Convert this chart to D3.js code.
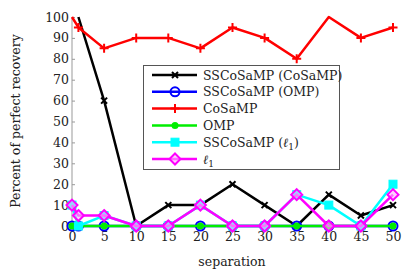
<!DOCTYPE html>
<html>
<head>
<meta charset="utf-8">
<script src="https://cdn.jsdelivr.net/npm/d3@7"></script>
<style>
  body { margin: 0; background: #fff; }
  text { font-family: "DejaVu Serif", serif; fill: #222; }
</style>
</head>
<body>
<svg id="chart" width="415" height="279"></svg>
<script>
// separation values on x
var separation = [0, 1, 5, 10, 15, 20, 25, 30, 35, 40, 45, 50];

// percent of perfect recovery per method (null = not measured)
var sscosampCosamp = [null, 100, 60, 0, 10, 10, 20, 10, 0, 15, 5, 10];
var sscosampOmp    = [0, 0, 0, 0, 0, 0, 0, 0, 0, 0, 0, 0];
var cosamp         = [100, 95, 85, 90, 90, 85, 95, 90, 80, 100, 90, 95];
var omp            = [0, 0, 0, 0, 0, 0, 0, 0, 0, 0, 0, 0];
var sscosampL1     = [10, 0, 5, 0, 0, 10, 0, 0, 15, 10, 0, 20];
var l1             = [10, 5, 5, 0, 0, 10, 0, 0, 15, 0, 0, 15];

var xTicks = [0, 5, 10, 15, 20, 25, 30, 35, 40, 45, 50];
var yTicks = [0, 10, 20, 30, 40, 50, 60, 70, 80, 90, 100];

var series = [
  { name: "SSCoSaMP (CoSaMP)", values: sscosampCosamp, color: "#000", marker: "x" },
  { name: "SSCoSaMP (OMP)", values: sscosampOmp, color: "#0000ff", marker: "circleOpen" },
  { name: "CoSaMP", values: cosamp, color: "#ff0000", marker: "plus" },
  { name: "OMP", values: omp, color: "#00ee00", marker: "circleFill" },
  { name: "SSCoSaMP (l1)", values: sscosampL1, color: "#00ffff", marker: "square" },
  { name: "l1", values: l1, color: "#ff00ff", marker: "diamond" }
];

var svg = d3.select("#chart");

var x = d3.scaleLinear().domain([0, 50]).range([72, 393]);
var y = d3.scaleLinear().domain([0, 100]).range([226, 17]);

// axes
var yAxis = svg.append("g")
  .attr("transform", "translate(72,0)")
  .call(d3.axisLeft(y).tickValues(yTicks).tickSize(-3).tickPadding(3));
yAxis.select(".domain").attr("stroke", "#999").attr("d", "M0," + y(0) + "V" + y(100));
yAxis.selectAll(".tick line").attr("stroke", "#999");
yAxis.selectAll("text").style("font-size", "12.5px").style("font-family", "DejaVu Serif").attr("fill", "#222");

var xAxis = svg.append("g")
  .attr("transform", "translate(0,226)")
  .call(d3.axisBottom(x).tickValues(xTicks).tickSize(0).tickPadding(6));
xAxis.select(".domain").remove();
xAxis.selectAll("text").style("font-size", "12.5px").style("font-family", "DejaVu Serif").attr("fill", "#222");

svg.append("text")
  .attr("x", 232).attr("y", 266)
  .attr("text-anchor", "middle")
  .style("font-size", "12.5px")
  .text("separation");

svg.append("text")
  .attr("transform", "translate(20,121) rotate(-90)")
  .attr("text-anchor", "middle")
  .style("font-size", "12.5px")
  .text("Percent of perfect recovery");

function drawMarker(g, type, color, cx, cy) {
  if (type === "x") {
    g.append("path").attr("d", "M" + (cx - 3) + "," + (cy - 3) + "L" + (cx + 3) + "," + (cy + 3) +
      "M" + (cx - 3) + "," + (cy + 3) + "L" + (cx + 3) + "," + (cy - 3))
      .attr("stroke", color).attr("stroke-width", 2);
  } else if (type === "plus") {
    g.append("path").attr("d", "M" + (cx - 4.5) + "," + cy + "H" + (cx + 4.5) + "M" + cx + "," + (cy - 4.5) + "V" + (cy + 4.5))
      .attr("stroke", color).attr("stroke-width", 2);
  } else if (type === "circleOpen") {
    g.append("circle").attr("cx", cx).attr("cy", cy).attr("r", 4.5)
      .attr("fill", "none").attr("stroke", color).attr("stroke-width", 2);
  } else if (type === "circleFill") {
    g.append("circle").attr("cx", cx).attr("cy", cy).attr("r", 3.5)
      .attr("fill", color);
  } else if (type === "square") {
    g.append("rect").attr("x", cx - 4).attr("y", cy - 4).attr("width", 8).attr("height", 8)
      .attr("fill", color).attr("stroke", color).attr("stroke-width", 1);
  } else if (type === "diamond") {
    g.append("path").attr("d", "M" + cx + "," + (cy - 5.5) + "L" + (cx + 5.5) + "," + cy + "L" + cx + "," + (cy + 5.5) + "L" + (cx - 5.5) + "," + cy + "Z")
      .attr("fill", "#ffb0ff").attr("fill-opacity", 0.6).attr("stroke", color).attr("stroke-width", 2);
  }
}

var line = d3.line()
  .defined(function(d) { return d.v !== null; })
  .x(function(d) { return x(d.s); })
  .y(function(d) { return y(d.v); });

series.forEach(function(s) {
  var pts = separation.map(function(sep, i) { return { s: sep, v: s.values[i] }; });
  var g = svg.append("g");
  g.append("path").datum(pts)
    .attr("d", line)
    .attr("fill", "none")
    .attr("stroke", s.color)
    .attr("stroke-width", 2.5)
    .attr("stroke-linejoin", "round");
  // markers sitting on the top edge of the axes are clipped away in the original
  pts.forEach(function(p) {
    if (p.v !== null && p.v < 100) drawMarker(g, s.marker, s.color, x(p.s), y(p.v));
  });
});

// legend
var lg = svg.append("g");
lg.append("rect")
  .attr("x", 143.5).attr("y", 65.5).attr("width", 196).attr("height", 104)
  .attr("fill", "#fff").attr("stroke", "#555").attr("stroke-width", 1);

series.forEach(function(s, i) {
  var cy = 75 + i * 16.8;
  lg.append("line")
    .attr("x1", 152).attr("x2", 197).attr("y1", cy).attr("y2", cy)
    .attr("stroke", s.color).attr("stroke-width", 2.5);
  drawMarker(lg, s.marker, s.color, 175, cy);
  var t = lg.append("text")
    .attr("x", 203).attr("y", cy + 4.5)
    .style("font-size", "12.5px");
  if (s.name === "SSCoSaMP (l1)") {
    t.append("tspan").text("SSCoSaMP (");
    t.append("tspan").style("font-style", "italic").text("\u2113");
    t.append("tspan").attr("dy", 3).style("font-size", "9px").text("1");
    t.append("tspan").attr("dy", -3).text(")");
  } else if (s.name === "l1") {
    t.append("tspan").style("font-style", "italic").text("\u2113");
    t.append("tspan").attr("dy", 3).style("font-size", "9px").text("1");
  } else {
    t.text(s.name);
  }
});
</script>
</body>
</html>
